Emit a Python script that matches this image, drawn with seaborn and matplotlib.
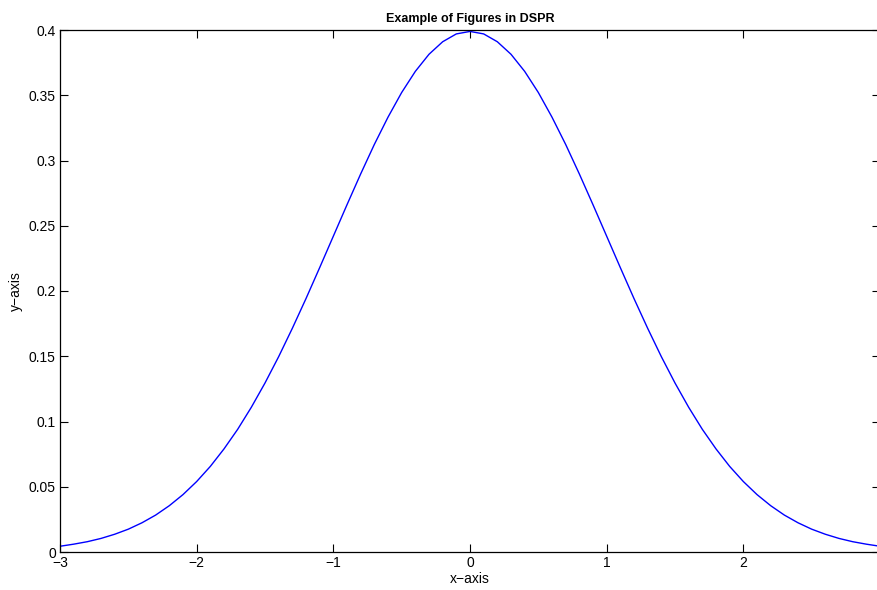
import matplotlib
matplotlib.use('Agg')
import matplotlib.pyplot as plt
import seaborn as sns
import pandas as pd

# values (step 0.1)
x_vals = [-3.0, -2.9, -2.8, -2.7, -2.6, -2.5, -2.4, -2.3, -2.2, -2.1,
          -2.0, -1.9, -1.8, -1.7, -1.6, -1.5, -1.4, -1.3, -1.2, -1.1,
          -1.0, -0.9, -0.8, -0.7, -0.6, -0.5, -0.4, -0.3, -0.2, -0.1,
          0.0, 0.1, 0.2, 0.3, 0.4, 0.5, 0.6, 0.7, 0.8, 0.9,
          1.0, 1.1, 1.2, 1.3, 1.4, 1.5, 1.6, 1.7, 1.8, 1.9,
          2.0, 2.1, 2.2, 2.3, 2.4, 2.5, 2.6, 2.7, 2.8, 2.9, 3.0]
y_vals = [0.0044, 0.0060, 0.0079, 0.0104, 0.0136, 0.0175, 0.0224, 0.0283, 0.0355, 0.0440,
          0.0540, 0.0656, 0.0790, 0.0940, 0.1109, 0.1295, 0.1497, 0.1714, 0.1942, 0.2179,
          0.2420, 0.2661, 0.2897, 0.3123, 0.3332, 0.3521, 0.3683, 0.3814, 0.3910, 0.3970,
          0.3989, 0.3970, 0.3910, 0.3814, 0.3683, 0.3521, 0.3332, 0.3123, 0.2897, 0.2661,
          0.2420, 0.2179, 0.1942, 0.1714, 0.1497, 0.1295, 0.1109, 0.0940, 0.0790, 0.0656,
          0.0540, 0.0440, 0.0355, 0.0283, 0.0224, 0.0175, 0.0136, 0.0104, 0.0079, 0.0060, 0.0044]

x_ticks = [-3, -2, -1, 0, 1, 2, 3]
x_labels = ['\u22123', '\u22122', '\u22121', '0', '1', '2', '3']
y_ticks = [0, 0.05, 0.1, 0.15, 0.2, 0.25, 0.3, 0.35, 0.4]
y_labels = ['0', '0.05', '0.1', '0.15', '0.2', '0.25', '0.3', '0.35', '0.4']

df = pd.DataFrame({'x': x_vals, 'y': y_vals})

sns.set_style('ticks')
plt.rcParams['font.family'] = ['Liberation Sans', 'DejaVu Sans']
plt.rcParams['text.color'] = 'black'
plt.rcParams['axes.labelcolor'] = 'black'

fig = plt.figure(figsize=(8.78, 5.90), dpi=100)
# axes runs slightly past the right edge, as in the reference
ax = fig.add_axes([60 / 878, 1 - 552 / 590, 820 / 878, 522 / 590])

sns.lineplot(data=df, x='x', y='y', ax=ax, color='#0000ff', linewidth=1)

ax.set_xlim(-3, 3)
ax.set_ylim(0, 0.4)
ax.set_xticks(x_ticks)
ax.set_xticklabels(x_labels)
ax.set_yticks(y_ticks)
ax.set_yticklabels(y_labels)
ax.tick_params(direction='in', length=6, width=0.8, top=True, right=True,
               labelsize=10, colors='black', pad=3)
for s in ax.spines.values():
    s.set_visible(True)
    s.set_linewidth(0.9)
    s.set_color('black')

ax.set_xlabel('x\u2212axis', fontsize=10, labelpad=1, color='black')
ax.set_ylabel('y\u2212axis', fontsize=10, labelpad=4, color='black')
ax.set_title('Example of Figures in DSPR', fontsize=9, fontweight='bold', pad=6,
             color='black')

fig.savefig('out.png', dpi=100)
